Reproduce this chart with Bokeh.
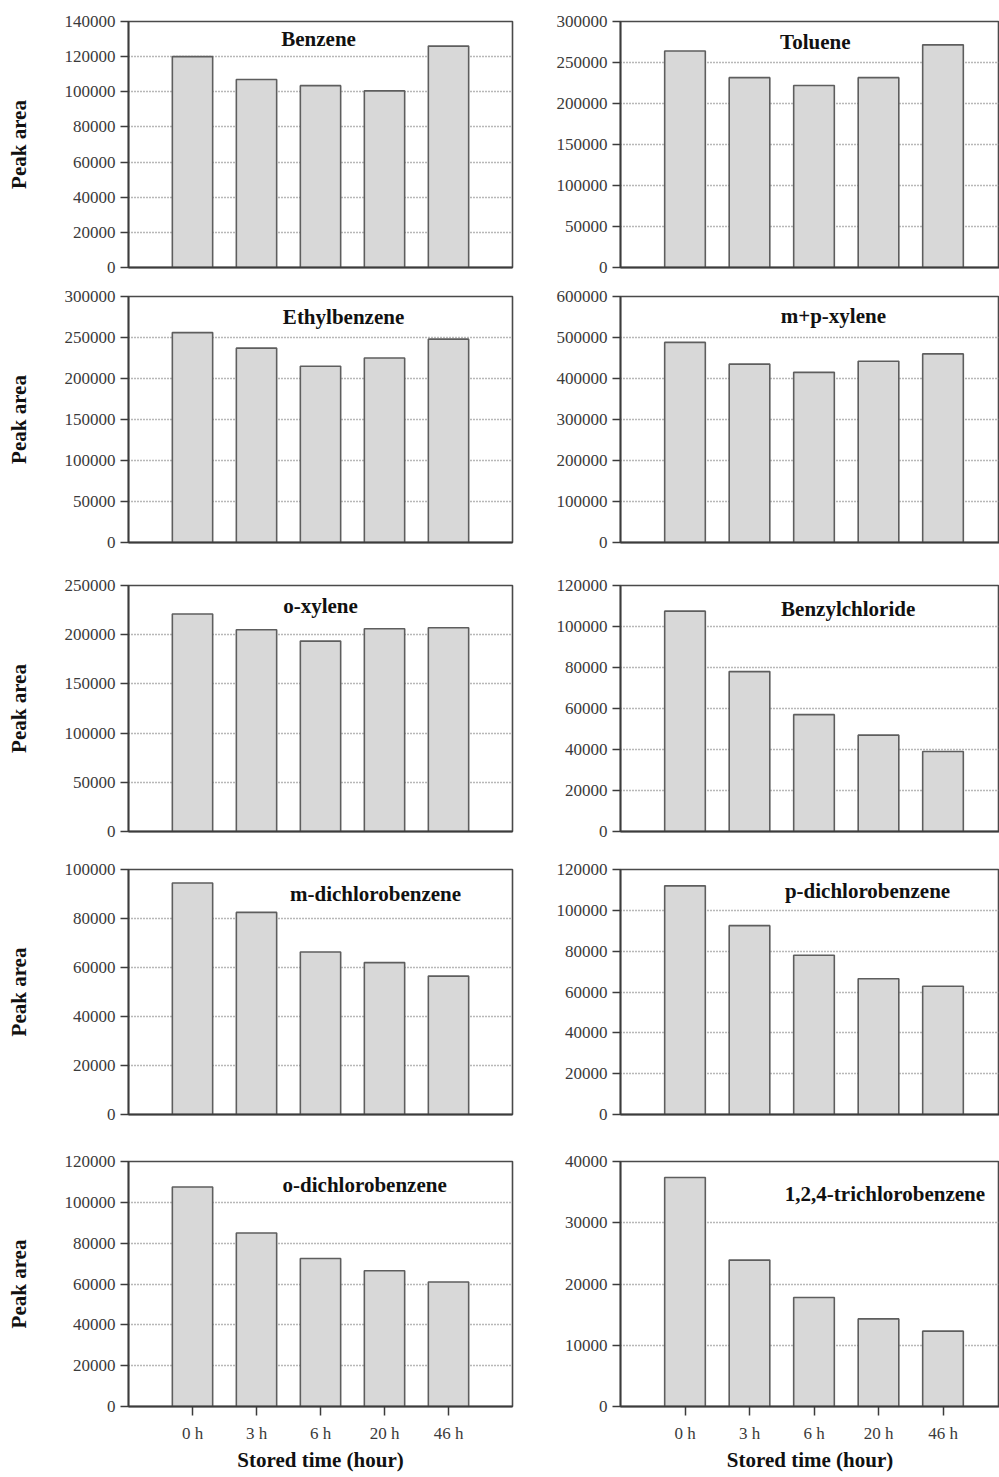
from bokeh.plotting import figure
from bokeh.layouts import column, row
from bokeh.models import Range1d, FixedTicker, BasicTickFormatter, Label, ColumnDataSource
from bokeh.embed import file_html
from bokeh.resources import INLINE

# ---------------- data ----------------
times = ["0 h", "3 h", "6 h", "20 h", "46 h"]

compounds = ["Benzene", "Toluene", "Ethylbenzene", "m+p-xylene", "o-xylene",
             "Benzylchloride", "m-dichlorobenzene", "p-dichlorobenzene",
             "o-dichlorobenzene", "1,2,4-trichlorobenzene"]

benzene = [120000, 107000, 103500, 100500, 126000]
toluene = [264000, 231500, 222000, 231500, 271500]
ethylbenzene = [256000, 237000, 215000, 225000, 248000]
mp_xylene = [488000, 435000, 415000, 442000, 460000]
o_xylene = [221000, 205000, 193500, 206000, 207000]
benzylchloride = [107500, 78000, 57000, 47000, 39000]
m_dichlorobenzene = [94500, 82500, 66300, 62000, 56500]
p_dichlorobenzene = [112000, 92500, 78000, 66500, 62800]
o_dichlorobenzene = [107500, 85000, 72500, 66500, 61000]
trichlorobenzene = [37400, 23900, 17800, 14300, 12300]

series = [benzene, toluene, ethylbenzene, mp_xylene, o_xylene,
          benzylchloride, m_dichlorobenzene, p_dichlorobenzene,
          o_dichlorobenzene, trichlorobenzene]

y_max = [140000, 300000, 300000, 600000, 250000, 120000, 100000, 120000, 120000, 40000]
y_step = [20000, 50000, 50000, 100000, 50000, 20000, 20000, 20000, 20000, 10000]

y_label = "Peak area"
x_label = "Stored time (hour)"

# ---------------- styling / layout ----------------
title_x = [2.97, 3.02, 3.36, 3.30, 3.00, 3.53, 3.86, 3.83, 3.69, 4.10]
title_off = [17, 20, 20, 19, 20, 23, 24, 21, 23, 32]

row_top = [21, 15, 22, 19, 25]
row_frame = [246, 246, 246, 245, 245]
row_bottom = [14, 21, 19, 22, 72]

SERIF = "Liberation Serif"
BAR_FILL = "#d8d8d8"
BAR_LINE = "#5e5e5e"
AXIS_COL = "#3c3c3c"
GRID_COL = "#707070"
TICK_COL = "#3a3a3a"


def make_panel(idx):
    r, c = divmod(idx, 2)
    left = c == 0
    last = r == 4
    fw = 384 if left else 379
    xr_end = 6 if left else fw / 64.5
    fh = row_frame[r]
    p = figure(title=None, output_backend="svg", toolbar_location=None,
               frame_width=fw, frame_height=fh,
               x_range=Range1d(0, xr_end), y_range=Range1d(0, y_max[idx]),
               min_border_left=128 if left else 100,
               min_border_right=8 if left else 0,
               min_border_top=row_top[r], min_border_bottom=row_bottom[r],
               background_fill_color="white", border_fill_color="white")
    p.outline_line_color = "#4a4a4a"
    p.outline_line_width = 1.6

    xs = [k + 1 for k in range(len(times))]
    src = ColumnDataSource(dict(x=xs, top=series[idx], t=times))
    p.vbar(x="x", top="top", bottom=0, width=0.63, source=src,
           fill_color=BAR_FILL, line_color=BAR_LINE, line_width=1.6)

    # y axis
    yticks = list(range(0, y_max[idx] + 1, y_step[idx]))
    ya = p.yaxis[0]
    ya.ticker = FixedTicker(ticks=yticks)
    ya.formatter = BasicTickFormatter(use_scientific=False)
    ya.minor_tick_line_color = None
    ya.major_tick_out = 8
    ya.major_tick_in = 0
    ya.major_tick_line_color = AXIS_COL
    ya.major_tick_line_width = 1.5
    ya.axis_line_color = AXIS_COL
    ya.axis_line_width = 1.8
    ya.major_label_text_font = SERIF
    ya.major_label_text_font_size = "17px"
    ya.major_label_text_color = TICK_COL
    ya.major_label_standoff = 5
    if left:
        ya.axis_label = y_label
        ya.axis_label_text_font = SERIF
        ya.axis_label_text_font_style = "bold"
        ya.axis_label_text_font_size = "21px"
        ya.axis_label_text_color = "#111111"
        ya.axis_label_standoff = 31

    # x axis
    xa = p.xaxis[0]
    xa.axis_line_color = AXIS_COL
    xa.axis_line_width = 1.8
    xa.minor_tick_line_color = None
    if last:
        xa.ticker = FixedTicker(ticks=xs)
        xa.major_label_overrides = {x: t for x, t in zip(xs, times)}
        xa.major_tick_out = 9
        xa.major_tick_in = 0
        xa.major_tick_line_color = AXIS_COL
        xa.major_tick_line_width = 1.5
        xa.major_label_text_font = SERIF
        xa.major_label_text_font_size = "17px"
        xa.major_label_text_color = TICK_COL
        xa.major_label_standoff = 8
        xa.axis_label = x_label
        xa.axis_label_text_font = SERIF
        xa.axis_label_text_font_style = "bold"
        xa.axis_label_text_font_size = "21px"
        xa.axis_label_text_color = "#111111"
        xa.axis_label_standoff = 2
    else:
        xa.ticker = FixedTicker(ticks=[])
        xa.major_tick_out = 0
        xa.major_label_text_font_size = "0px"
        xa.major_label_standoff = 0

    # grid
    p.xgrid.grid_line_color = None
    p.ygrid.grid_line_color = GRID_COL
    p.ygrid.grid_line_dash = "1 2"
    p.ygrid.grid_line_width = 1.3

    # panel title
    ty = y_max[idx] * (1 - title_off[idx] / fh)
    p.add_layout(Label(x=title_x[idx], y=ty, x_units="data", y_units="data",
                       text=compounds[idx], text_align="center",
                       text_baseline="middle", text_font=SERIF,
                       text_font_style="bold", text_font_size="21px",
                       text_color="#111111"))
    return p


panels = [make_panel(i) for i in range(len(compounds))]
rows = [row(panels[2 * k], panels[2 * k + 1]) for k in range(5)]
layout = column(*rows)

open("out.html", "w").write(file_html(layout, INLINE))
